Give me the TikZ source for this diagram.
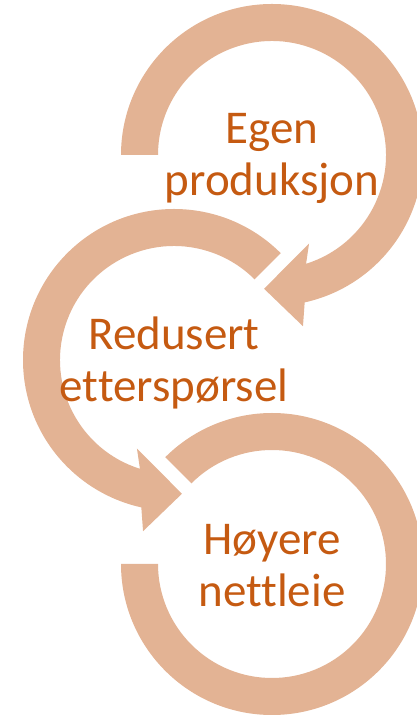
\documentclass[tikz,border=0pt]{standalone}
\usepackage{fontspec}
\setmainfont{Carlito}[Ligatures=NoCommon]
\usepackage{tikz}
\usetikzlibrary{calc}
\definecolor{ringfill}{RGB}{227,179,148}
\definecolor{labeltext}{RGB}{197,90,17}
\tikzstyle{ring} = [fill=ringfill, draw=none]
\tikzstyle{steplabel} = [align=center, text=labeltext, font=\fontsize{47}{52}\selectfont, anchor=base, inner sep=0pt]

\begin{document}
\begin{tikzpicture}[x=1pt, y=1pt]
\useasboundingbox (0,0) rectangle (417,717);

% Circle centres
\coordinate (c1) at (272,562);
\coordinate (c2) at (174,357);
\coordinate (c3) at (272,153);

% Top circle, arrow turning clockwise
\fill[ring] ($(c1)+(180:151)$) arc[start angle=180, end angle=-77.5, radius=151]
  -- ($(c1)+(-79.75:174)$) -- ($(c1)+(-93.4:134)$) -- ($(c1)+(-67.3:96)$) -- ($(c1)+(-72.6:114)$)
  arc[start angle=-72.6, end angle=180, radius=114] -- cycle;

% Middle circle, arrow turning anticlockwise
\fill[ring] ($(c2)+(45:151)$) arc[start angle=45, end angle=257.5, radius=151]
  -- ($(c2)+(259.75:174)$) -- ($(c2)+(273.4:134)$) -- ($(c2)+(247.3:96)$) -- ($(c2)+(252.6:114)$)
  arc[start angle=252.6, end angle=45, radius=114] -- cycle;

% Bottom circle, no arrow
\fill[ring] ($(c3)+(180:151)$) arc[start angle=-180, end angle=135, radius=151]
  -- ($(c3)+(135:114)$)
  arc[start angle=135, end angle=-180, radius=114] -- cycle;

% Labels (base = last line)
\node[steplabel] (egen) at (272,521) {Egen\\produksjon};
\node[steplabel] (redusert) at (174,315) {Redusert\\etterspørsel};
\node[steplabel] (hoyere) at (272,110) {Høyere\\nettleie};

\end{tikzpicture}
\end{document}
